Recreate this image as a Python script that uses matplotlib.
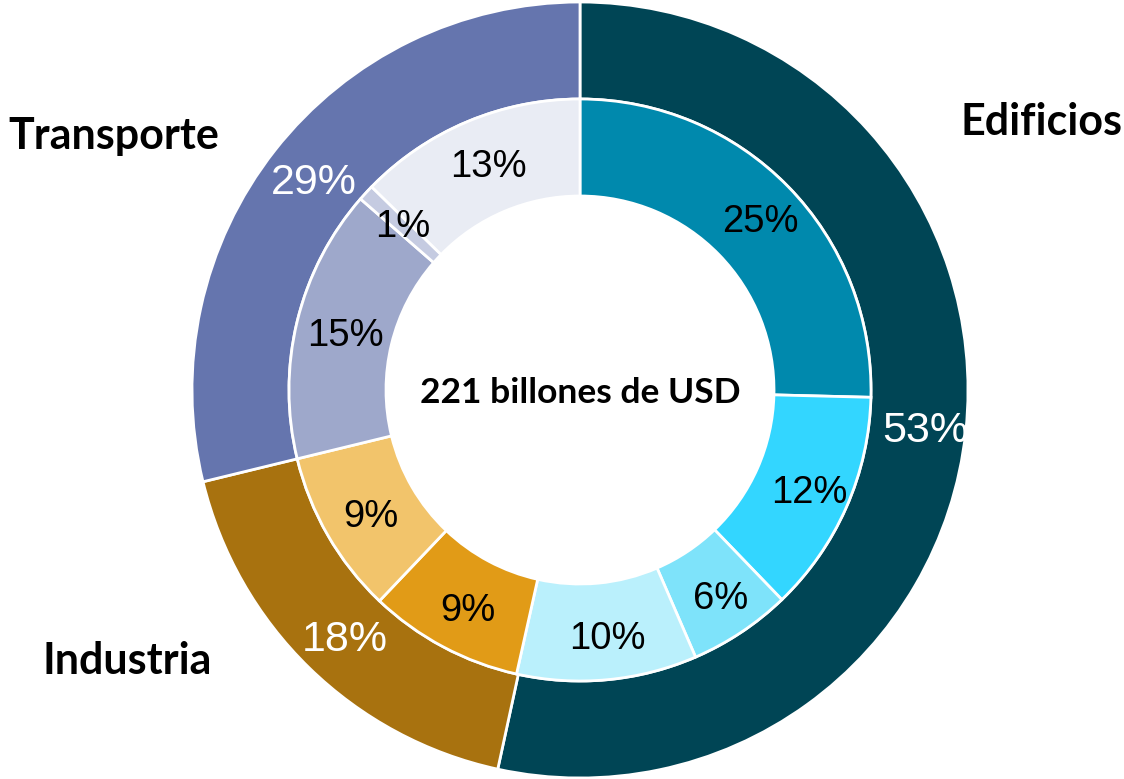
#!/usr/bin/env python3
# Nested donut: clean-energy investment by sector (outer) and sub-sector (inner).
import numpy as np
import matplotlib
matplotlib.use("Agg")
import matplotlib.pyplot as plt

SECTORS = ["Edificios", "Industria", "Transporte"]
SECTOR_PCT = [53.4, 17.8, 28.8]
SECTOR_COL = ["#004555", "#A8720F", "#6575AE"]

SUB_PCT = [25.4, 12.4, 5.7, 10.0, 8.6, 9.1, 15.2, 0.9, 12.7]
SUB_COL = ["#0089AD", "#33D6FF", "#7EE3FA", "#BAF0FC",
           "#E19B17", "#F2C46B",
           "#9EA8CB", "#C5CBE1", "#E9ECF4"]

CENTER_TXT = "221 billones de USD"

W, H = 1124, 779
fig = plt.figure(figsize=(W / 100, H / 100), dpi=100)
ax = fig.add_axes([0, 0, 1, 1])

cx, cy = 580, H - 390
R_OUT, R_MID, R_IN = 388, 291, 194
wp = dict(edgecolor="white", linewidth=2)

outer, _ = ax.pie(SECTOR_PCT, radius=R_OUT, center=(cx, cy), startangle=90,
                  counterclock=False, colors=SECTOR_COL,
                  wedgeprops=dict(width=R_OUT - R_MID, **wp))
inner, _ = ax.pie(SUB_PCT, radius=R_MID, center=(cx, cy), startangle=90,
                  counterclock=False, colors=SUB_COL,
                  wedgeprops=dict(width=R_MID - R_IN, **wp))

# percent labels sit at each wedge's mid-angle (nudged a touch right, as in the source)
def put_labels(wedges, vals, r, color, size):
    for w, v in zip(wedges, vals):
        a = np.deg2rad((w.theta1 + w.theta2) / 2)
        ax.text(cx + 4 + r * np.cos(a), cy + r * np.sin(a), f"{round(v)}%",
                color=color, family="Liberation Sans", fontsize=size,
                ha="center", va="center_baseline")

put_labels(outer, SECTOR_PCT, 343, "white", 31)
put_labels(inner, SUB_PCT, 246, "black", 27.5)

bold = dict(family="Lato", fontweight="bold", color="black",
            ha="center", va="center_baseline")
ax.text(cx, H - 390, CENTER_TXT, fontsize=25.5, **bold)
ax.text(1042, H - 118, SECTORS[0], fontsize=31, **bold)
ax.text(127, H - 658, SECTORS[1], fontsize=31, **bold)
ax.text(114, H - 132, SECTORS[2], fontsize=31, **bold)

ax.set_xlim(0, W)
ax.set_ylim(0, H)
ax.axis("off")
fig.savefig("out.png", dpi=100)
